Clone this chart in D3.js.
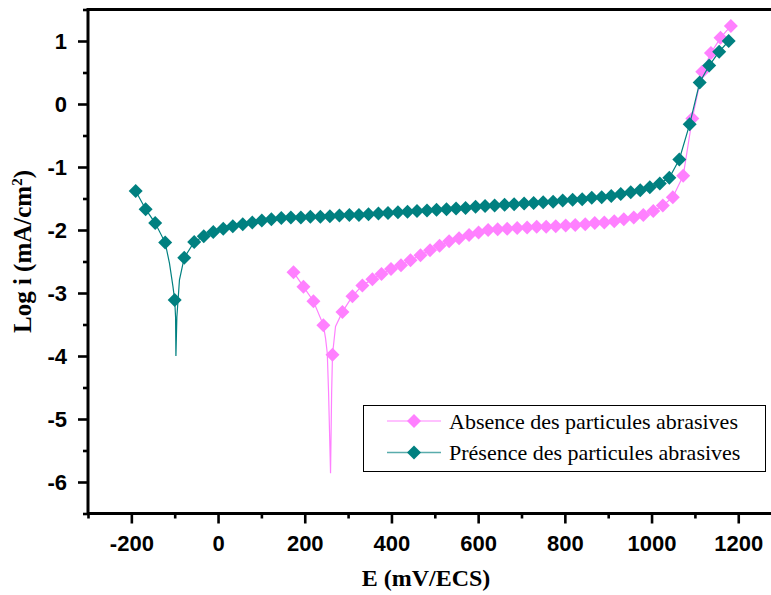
<!DOCTYPE html>
<html>
<head>
<meta charset="utf-8">
<script src="https://cdn.jsdelivr.net/npm/d3@7"></script>
<style>
  body { margin: 0; background: #fff; }
</style>
</head>
<body>
<script>
// Absence des particules abrasives : marker points (E in mV/ECS, log i)
var absenceE = [174, 197, 220, 243, 264, 287, 310, 333, 356, 377, 399, 422, 444, 467, 489, 511,
                533, 556, 579, 601, 623, 645, 667, 690, 713, 735, 757, 779, 802, 824, 847, 869,
                891, 914, 936, 959, 981, 1004, 1026, 1049, 1073, 1094, 1117, 1137, 1159, 1183];
var absenceLog = [-2.67, -2.90, -3.13, -3.51, -3.98, -3.30, -3.05, -2.88, -2.78, -2.70, -2.62, -2.56,
                  -2.48, -2.40, -2.32, -2.25, -2.18, -2.13, -2.08, -2.04, -2.00, -1.99, -1.98, -1.97,
                  -1.96, -1.95, -1.95, -1.94, -1.93, -1.92, -1.91, -1.89, -1.88, -1.86, -1.83, -1.80,
                  -1.76, -1.70, -1.61, -1.48, -1.14, -0.23, 0.51, 0.81, 1.05, 1.24];
// extra line points around the corrosion potential (no marker)
var absenceDipE = [248, 252, 255, 259.5, 262, 271];
var absenceDipLog = [-3.72, -3.96, -4.59, -5.86, -4.59, -3.53];

// Présence des particules abrasives
var presenceE = [-190, -167, -145, -122, -100, -78, -55, -33, -11, 12, 34, 57, 79, 101, 123, 146,
                 168, 191, 213, 236, 258, 280, 303, 325, 347, 370, 392, 415, 437, 459, 482, 504,
                 527, 549, 571, 594, 616, 638, 661, 683, 706, 728, 750, 773, 795, 818, 840, 862,
                 885, 907, 929, 952, 974, 996, 1019, 1041, 1064, 1088, 1111, 1133, 1156, 1178];
var presenceLog = [-1.38, -1.67, -1.89, -2.20, -3.11, -2.44, -2.19, -2.10, -2.03, -1.98, -1.94, -1.91,
                   -1.88, -1.85, -1.83, -1.81, -1.80, -1.80, -1.79, -1.79, -1.78, -1.77, -1.76, -1.76,
                   -1.75, -1.74, -1.73, -1.72, -1.71, -1.70, -1.69, -1.68, -1.67, -1.66, -1.65, -1.63,
                   -1.62, -1.61, -1.60, -1.59, -1.58, -1.57, -1.56, -1.55, -1.53, -1.52, -1.51, -1.49,
                   -1.48, -1.46, -1.43, -1.40, -1.37, -1.32, -1.26, -1.17, -0.88, -0.32, 0.34, 0.61,
                   0.83, 1.00];
var presenceDipE = [-112, -104, -98, -97.2, -95, -89];
var presenceDipLog = [-2.53, -2.90, -3.38, -4.00, -3.38, -2.79];

var xTicks = [-200, 0, 200, 400, 600, 800, 1000, 1200];
var xMinor = [-300, -100, 100, 300, 500, 700, 900, 1100, 1300];
var yTicks = [-6, -5, -4, -3, -2, -1, 0, 1];
var yMinor = [-6.5, -5.5, -4.5, -3.5, -2.5, -1.5, -0.5, 0.5, 1.5];
var seriesNames = ["Absence des particules abrasives", "Présence des particules abrasives"];
var seriesColors = ["#ff80ff", "#008080"];

var width = 771, height = 595;
var plot = { left: 88, top: 9.5, right: 781.6, bottom: 513.5 };

var x = d3.scaleLinear().domain([-300, 1300]).range([plot.left, plot.right]);
var y = d3.scaleLinear().domain([-6.5, 1.5]).range([plot.bottom, plot.top]);

function zipPts(es, ls) {
  return es.map(function(e, i) { return { e: e, v: ls[i] }; });
}
// plain hyphen, no thousands separator
function plain(d) { return String(d); }

var series = [
  { name: seriesNames[0], color: seriesColors[0],
    markers: zipPts(absenceE, absenceLog),
    line: zipPts(absenceE.concat(absenceDipE), absenceLog.concat(absenceDipLog)) },
  { name: seriesNames[1], color: seriesColors[1],
    markers: zipPts(presenceE, presenceLog),
    line: zipPts(presenceE.concat(presenceDipE), presenceLog.concat(presenceDipLog)) }
];
series.forEach(function(s) { s.line.sort(function(a, b) { return a.e - b.e; }); });

var svg = d3.select("body").append("svg")
            .attr("width", width)
            .attr("height", height);

var sansBold = "'Liberation Sans', Arial, sans-serif";
var serif = "'Liberation Serif', 'Times New Roman', serif";

// axes
var xAxis = svg.append("g")
               .attr("transform", "translate(0," + plot.bottom + ")")
               .call(d3.axisBottom(x).tickValues(xTicks).tickFormat(plain)
                       .tickSize(10).tickSizeOuter(0).tickPadding(12));
var xAxisMinor = svg.append("g")
                    .attr("transform", "translate(0," + plot.bottom + ")")
                    .call(d3.axisBottom(x).tickValues(xMinor).tickSize(5).tickFormat(""));
var yAxis = svg.append("g")
               .attr("transform", "translate(" + plot.left + ",0)")
               .call(d3.axisLeft(y).tickValues(yTicks).tickFormat(plain)
                       .tickSize(10).tickSizeOuter(0).tickPadding(11));
var yAxisMinor = svg.append("g")
                    .attr("transform", "translate(" + plot.left + ",0)")
                    .call(d3.axisLeft(y).tickValues(yMinor).tickSize(5).tickFormat(""));

[xAxis, xAxisMinor, yAxis, yAxisMinor].forEach(function(g) {
  g.select(".domain").remove();
  g.selectAll(".tick line").attr("stroke", "#000").attr("stroke-width", 2.6);
  g.selectAll(".tick text")
   .attr("fill", "#000")
   .style("font-family", sansBold)
   .style("font-weight", "bold")
   .style("font-size", "22px");
});

// frame
svg.append("rect")
   .attr("x", plot.left)
   .attr("y", plot.top)
   .attr("width", plot.right - plot.left)
   .attr("height", plot.bottom - plot.top)
   .attr("fill", "none")
   .attr("stroke", "#000")
   .attr("stroke-width", 3);

// curves
var line = d3.line()
             .x(function(d) { return x(d.e); })
             .y(function(d) { return y(d.v); });
var diamond = d3.symbol().type(d3.symbolSquare).size(98);

series.forEach(function(s) {
  svg.append("path")
     .datum(s.line)
     .attr("d", line)
     .attr("fill", "none")
     .attr("stroke", s.color)
     .attr("stroke-width", 1.2);
  svg.append("g").selectAll("path")
     .data(s.markers)
     .enter().append("path")
     .attr("d", diamond)
     .attr("transform", function(d) { return "translate(" + x(d.e) + "," + y(d.v) + ") rotate(45)"; })
     .attr("fill", s.color);
});

// axis titles
svg.append("text")
   .attr("x", 426)
   .attr("y", 586)
   .attr("text-anchor", "middle")
   .style("font-family", serif)
   .style("font-weight", "bold")
   .style("font-size", "24px")
   .text("E (mV/ECS)");

var yTitle = svg.append("text")
                .attr("transform", "translate(31,251.5) rotate(-90)")
                .attr("text-anchor", "middle")
                .style("font-family", serif)
                .style("font-weight", "bold")
                .style("font-size", "25px");
yTitle.append("tspan").text("Log i (mA/cm");
yTitle.append("tspan").attr("dy", -9).style("font-size", "15px").text("2");
yTitle.append("tspan").attr("dy", 9).text(")");

// legend
var legend = svg.append("g");
legend.append("rect")
      .attr("x", 363.5)
      .attr("y", 405.5)
      .attr("width", 402)
      .attr("height", 66)
      .attr("fill", "#fff")
      .attr("stroke", "#000")
      .attr("stroke-width", 1);

var rows = legend.selectAll("g.row")
                 .data(series)
                 .enter().append("g")
                 .attr("class", "row")
                 .attr("transform", function(d, i) { return "translate(0," + (421 + i * 31.5) + ")"; });
rows.append("line")
    .attr("x1", 387).attr("x2", 441)
    .attr("y1", 0).attr("y2", 0)
    .attr("stroke", function(d) { return d.color; })
    .attr("stroke-opacity", 0.65)
    .attr("stroke-width", 1.5);
rows.append("path")
    .attr("d", diamond)
    .attr("transform", "translate(414,0) rotate(45)")
    .attr("fill", function(d) { return d.color; });
rows.append("text")
    .attr("x", 449)
    .attr("y", 7.5)
    .style("font-family", serif)
    .style("font-size", "22px")
    .attr("fill", "#000")
    .text(function(d) { return d.name; });
</script>
</body>
</html>
